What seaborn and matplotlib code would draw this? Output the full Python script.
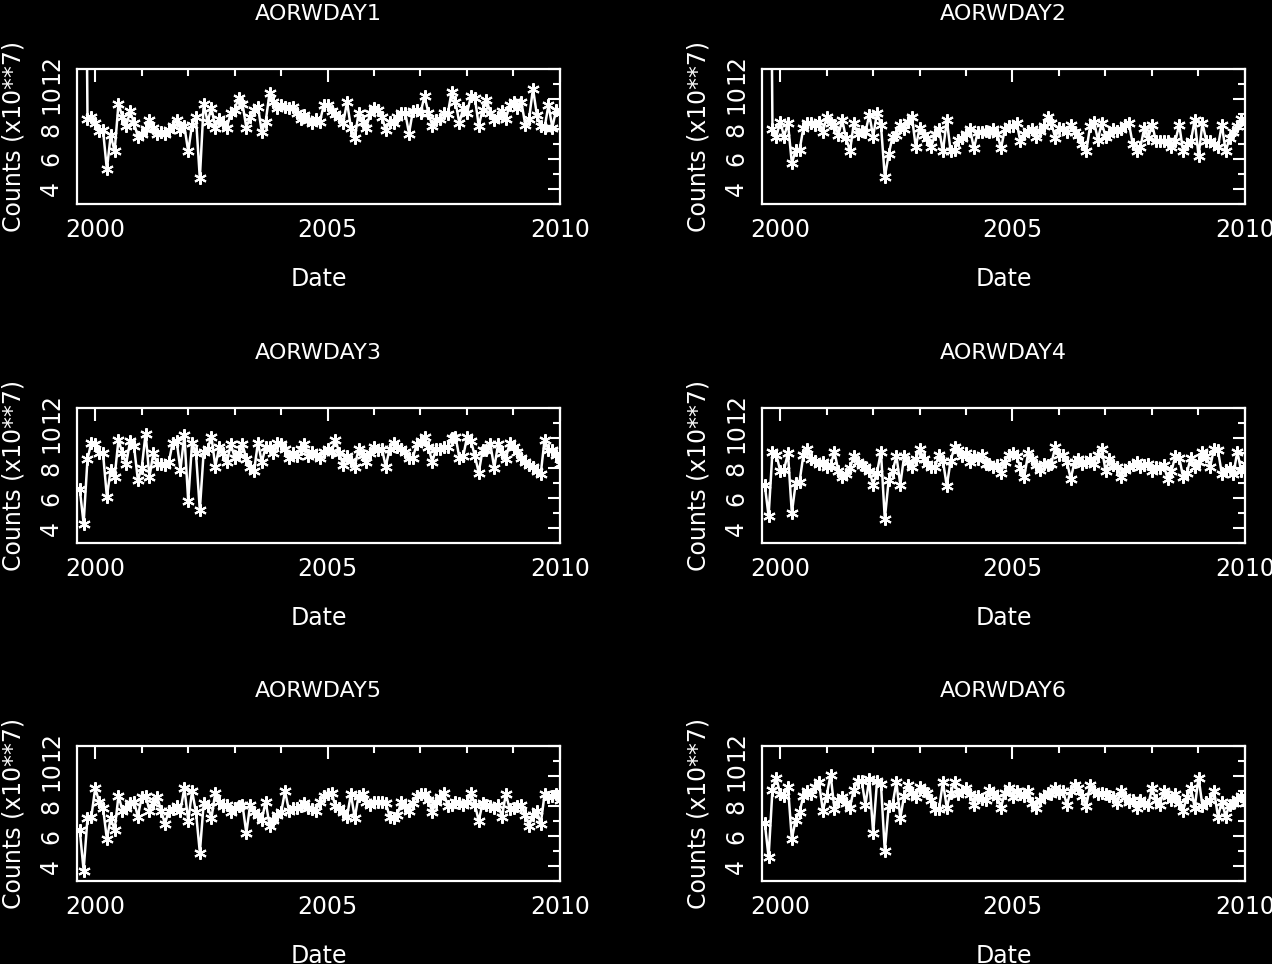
import numpy as np
import pandas as pd
import seaborn as sns
import matplotlib.pyplot as plt
from matplotlib.ticker import MultipleLocator

# monthly samples, first one in Sept 1999 (decimal years)
start_year = 1999.67
titles = ['AORWDAY1', 'AORWDAY2', 'AORWDAY3', 'AORWDAY4', 'AORWDAY5', 'AORWDAY6']

# counts in units of 10**7 (first points of day1/day2 are off scale)
day1 = [np.nan, 40, 8.7, 8.8, 8.4, 7.9, 7.95, 5.3, 7.6, 6.5,
        9.7, 8.8, 8.2, 9.2, 8.4, 7.5, 7.7, 8.0, 8.6, 8.1,
        7.7, 7.8, 7.7, 7.95, 8.2, 8.6, 7.95, 8.2, 6.5, 8.3,
        8.8, 4.7, 9.7, 8.5, 9.4, 8.1, 8.7, 8.4, 8.1, 9.1,
        9.3, 10.1, 9.7, 8.1, 8.8, 9.3, 9.5, 7.8, 8.5, 10.4,
        9.8, 9.4, 9.6, 9.5, 9.4, 9.5, 9.1, 8.7, 8.95, 8.6,
        8.4, 8.7, 8.5, 9.6, 9.6, 9.2, 9.0, 8.8, 8.4, 9.8,
        8.1, 7.4, 9.1, 8.5, 8.1, 9.1, 9.4, 9.3, 8.8, 7.95,
        8.5, 8.4, 8.8, 9.1, 9.1, 7.7, 9.2, 9.3, 9.1, 10.2,
        9.1, 8.2, 8.6, 8.7, 9.1, 9.0, 10.5, 9.8, 8.4, 9.4,
        9.1, 10.2, 10.1, 8.2, 9.3, 9.95, 9.1, 8.6, 8.8, 9.2,
        8.7, 9.6, 9.8, 9.4, 9.8, 8.3, 8.7, 10.7, 8.95, 8.2,
        8.1, 9.6, 8.1, 9.3, 9.1]
day2 = [np.nan, 40, 8.0, 7.5, 8.5, 7.5, 8.4, 5.7, 6.6, 6.6,
        8.1, 8.4, 8.4, 8.3, 8.5, 7.8, 8.8, 8.4, 8.3, 7.6,
        8.6, 7.4, 6.5, 8.4, 7.7, 7.9, 7.8, 8.95, 7.5, 9.1,
        8.3, 4.8, 6.3, 7.5, 7.6, 8.3, 8.0, 8.5, 8.8, 6.8,
        8.1, 7.6, 7.4, 6.8, 7.7, 8.0, 6.5, 8.6, 6.5, 6.6,
        7.3, 7.4, 7.7, 8.0, 6.7, 7.8, 7.8, 7.9, 7.8, 8.0,
        7.7, 6.7, 8.0, 8.2, 8.2, 8.4, 7.2, 7.7, 7.9, 8.0,
        7.5, 7.9, 8.2, 8.8, 8.4, 7.4, 8.1, 8.0, 7.8, 8.3,
        7.8, 7.6, 7.0, 6.5, 8.2, 8.5, 7.3, 8.4, 7.5, 7.7,
        8.0, 7.9, 8.0, 8.3, 8.4, 7.0, 6.5, 6.8, 8.1, 7.4,
        8.3, 7.2, 7.2, 7.2, 7.2, 6.8, 7.2, 8.3, 6.5, 7.0,
        7.2, 8.6, 6.2, 8.4, 7.2, 7.2, 7.0, 6.8, 8.3, 6.5,
        7.4, 7.8, 8.2, 8.7, 8.4]
day3 = [6.6, 4.3, 8.6, 9.7, 9.6, 9.0, 9.0, 6.1, 7.9, 7.4,
        9.9, 9.0, 8.3, 9.8, 9.5, 7.2, 8.0, 10.3, 7.4, 9.0,
        8.3, 8.3, 8.2, 8.4, 9.7, 9.8, 7.9, 10.2, 5.8, 9.7,
        9.0, 5.2, 9.1, 9.3, 10.1, 8.1, 9.4, 9.0, 8.4, 9.6,
        8.7, 9.0, 9.6, 8.6, 8.1, 7.8, 9.7, 8.4, 9.4, 9.4,
        9.0, 9.7, 9.6, 9.3, 8.7, 9.0, 8.8, 9.3, 9.6, 8.8,
        9.1, 8.9, 8.7, 9.1, 9.3, 9.1, 9.9, 9.0, 8.2, 8.8,
        8.5, 8.1, 9.3, 8.9, 8.4, 9.0, 9.4, 9.2, 9.3, 8.1,
        9.3, 9.7, 9.4, 9.3, 9.1, 8.7, 8.7, 9.6, 9.8, 10.1,
        9.4, 8.4, 9.3, 9.3, 9.4, 9.4, 10.0, 10.1, 8.7, 8.8,
        10.1, 9.8, 8.8, 7.7, 9.2, 9.2, 9.6, 8.0, 9.6, 9.0,
        8.6, 9.7, 9.4, 9.1, 8.7, 8.4, 8.2, 8.1, 7.8, 7.6,
        9.9, 9.2, 9.2, 8.9, 8.3]
day4 = [6.9, 4.8, 9.1, 8.9, 7.8, 7.9, 9.0, 5.0, 7.0, 7.1,
        8.9, 9.3, 8.6, 8.5, 8.3, 8.4, 8.1, 8.2, 9.1, 7.8,
        7.4, 7.6, 8.0, 8.8, 8.4, 8.2, 8.1, 7.8, 6.9, 7.7,
        9.1, 4.6, 7.2, 7.8, 8.8, 6.9, 8.8, 8.4, 8.1, 8.6,
        9.3, 8.6, 8.3, 8.1, 8.1, 8.9, 8.5, 6.8, 8.5, 9.4,
        9.2, 8.8, 9.0, 8.4, 8.8, 8.6, 8.9, 8.3, 8.3, 8.1,
        8.2, 7.7, 8.4, 8.9, 9.0, 8.8, 8.0, 7.4, 9.0, 8.6,
        8.2, 7.9, 8.3, 8.2, 8.3, 9.4, 8.9, 8.9, 8.4, 7.3,
        8.4, 8.6, 8.3, 8.4, 8.6, 8.3, 8.9, 9.3, 7.8, 8.6,
        8.2, 8.1, 7.4, 7.9, 8.1, 8.2, 8.4, 8.1, 8.2, 8.3,
        7.8, 8.1, 8.0, 8.2, 7.3, 7.8, 8.8, 8.7, 7.4, 7.7,
        8.7, 8.1, 8.4, 9.1, 8.8, 8.1, 9.3, 9.2, 7.6, 7.9,
        8.0, 7.6, 9.1, 7.8, 8.3]
day5 = [6.4, 3.7, 7.2, 7.3, 9.2, 8.3, 7.9, 5.8, 7.2, 6.4,
        8.7, 7.7, 7.9, 8.2, 8.3, 7.3, 8.6, 8.7, 7.7, 8.2,
        8.6, 7.7, 6.8, 7.7, 7.8, 8.0, 7.7, 9.2, 7.0, 9.0,
        7.6, 4.9, 8.2, 8.0, 7.2, 8.9, 8.3, 8.0, 8.1, 7.6,
        7.9, 8.0, 8.1, 6.2, 8.1, 7.6, 7.4, 7.1, 8.3, 6.7,
        7.1, 7.4, 7.6, 9.0, 7.7, 7.9, 7.9, 8.0, 8.2, 7.9,
        7.8, 7.7, 8.3, 8.7, 8.8, 8.9, 8.0, 7.9, 7.6, 7.3,
        8.8, 7.2, 8.7, 8.8, 8.3, 8.1, 8.3, 8.3, 8.3, 8.2,
        7.3, 7.2, 7.4, 8.3, 8.0, 7.7, 8.2, 8.7, 8.8, 8.8,
        8.4, 7.6, 8.3, 8.6, 8.9, 8.0, 8.1, 8.3, 8.2, 8.1,
        8.3, 8.9, 8.1, 7.0, 8.2, 8.1, 8.0, 7.9, 8.1, 7.3,
        8.8, 7.8, 7.9, 8.0, 8.1, 7.4, 6.7, 7.4, 7.7, 6.8,
        8.8, 8.6, 8.7, 8.8, 8.4]
day6 = [6.9, 4.6, 9.1, 9.9, 8.8, 8.7, 9.3, 5.8, 7.1, 7.6,
        8.7, 9.0, 8.8, 9.3, 9.6, 7.7, 8.7, 10.1, 7.8, 8.4,
        8.6, 8.2, 7.9, 9.1, 9.7, 9.7, 8.1, 9.8, 6.2, 9.7,
        9.5, 5.0, 8.0, 8.1, 9.6, 7.2, 8.7, 9.4, 8.9, 8.6,
        9.3, 9.0, 8.9, 8.4, 7.8, 7.8, 9.6, 7.9, 8.9, 9.6,
        8.8, 9.0, 9.2, 8.8, 8.1, 8.7, 8.5, 8.4, 9.1, 8.9,
        8.6, 7.9, 8.9, 9.2, 8.6, 9.0, 8.8, 8.7, 9.0, 8.2,
        7.9, 8.4, 8.7, 8.9, 8.8, 9.2, 8.9, 9.0, 8.1, 9.0,
        9.4, 9.2, 8.7, 8.0, 9.4, 9.0, 8.8, 8.9, 8.8, 8.7,
        8.6, 8.2, 9.0, 8.6, 8.3, 8.4, 7.9, 8.4, 8.2, 8.1,
        9.2, 8.4, 8.1, 9.0, 8.7, 8.4, 8.8, 8.2, 7.7, 8.6,
        9.2, 7.9, 9.9, 8.0, 8.3, 8.4, 9.0, 7.3, 8.3, 7.3,
        8.1, 8.2, 8.5, 8.7, 8.2]
series = [day1, day2, day3, day4, day5, day6]

sns.set_theme(style='dark', rc={
    'figure.facecolor': 'black', 'axes.facecolor': 'black',
    'axes.edgecolor': 'white', 'axes.labelcolor': 'white',
    'text.color': 'white', 'xtick.color': 'white', 'ytick.color': 'white',
    'axes.grid': False, 'axes.linewidth': 1.6,
})
plt.rcParams['font.family'] = ['DejaVu Sans']

fig = plt.figure(figsize=(12.72, 9.64), dpi=100)
lefts = [0.0605, 0.599]
bottoms = [0.7884, 0.4367, 0.0861]

for k, (title, vals) in enumerate(zip(titles, series)):
    ax = fig.add_axes([lefts[k % 2], bottoms[k // 2], 0.3797, 0.140])
    df = pd.DataFrame({'Date': start_year + np.arange(len(vals)) / 12, 'Counts': vals})
    sns.lineplot(data=df, x='Date', y='Counts', ax=ax, color='white', lw=1.8,
                 marker=(6, 2, 0), markersize=9, markeredgewidth=1.5,
                 markeredgecolor='white')
    ax.set_xlim(1999.61, 2010.0)
    ax.set_ylim(3, 12)
    ax.xaxis.set_major_locator(MultipleLocator(5))
    ax.xaxis.set_minor_locator(MultipleLocator(1))
    ax.yaxis.set_major_locator(MultipleLocator(2))
    ax.yaxis.set_minor_locator(MultipleLocator(1))
    ax.tick_params(which='both', direction='in', top=True, right=True, width=1.5)
    ax.tick_params(which='major', length=9)
    ax.tick_params(which='minor', length=5)
    ax.tick_params(axis='x', labelsize=17, pad=10)
    ax.tick_params(axis='y', labelsize=17, pad=10, labelrotation=90)
    for lab in ax.get_yticklabels():
        lab.set_va('center')
    ax.set_title(title, fontsize=16, pad=35)
    ax.set_xlabel('Date', fontsize=17, labelpad=18)
    ax.set_ylabel('Counts (x10**7)', fontsize=17, labelpad=10)

fig.savefig('out.png', dpi=100, facecolor='black')
